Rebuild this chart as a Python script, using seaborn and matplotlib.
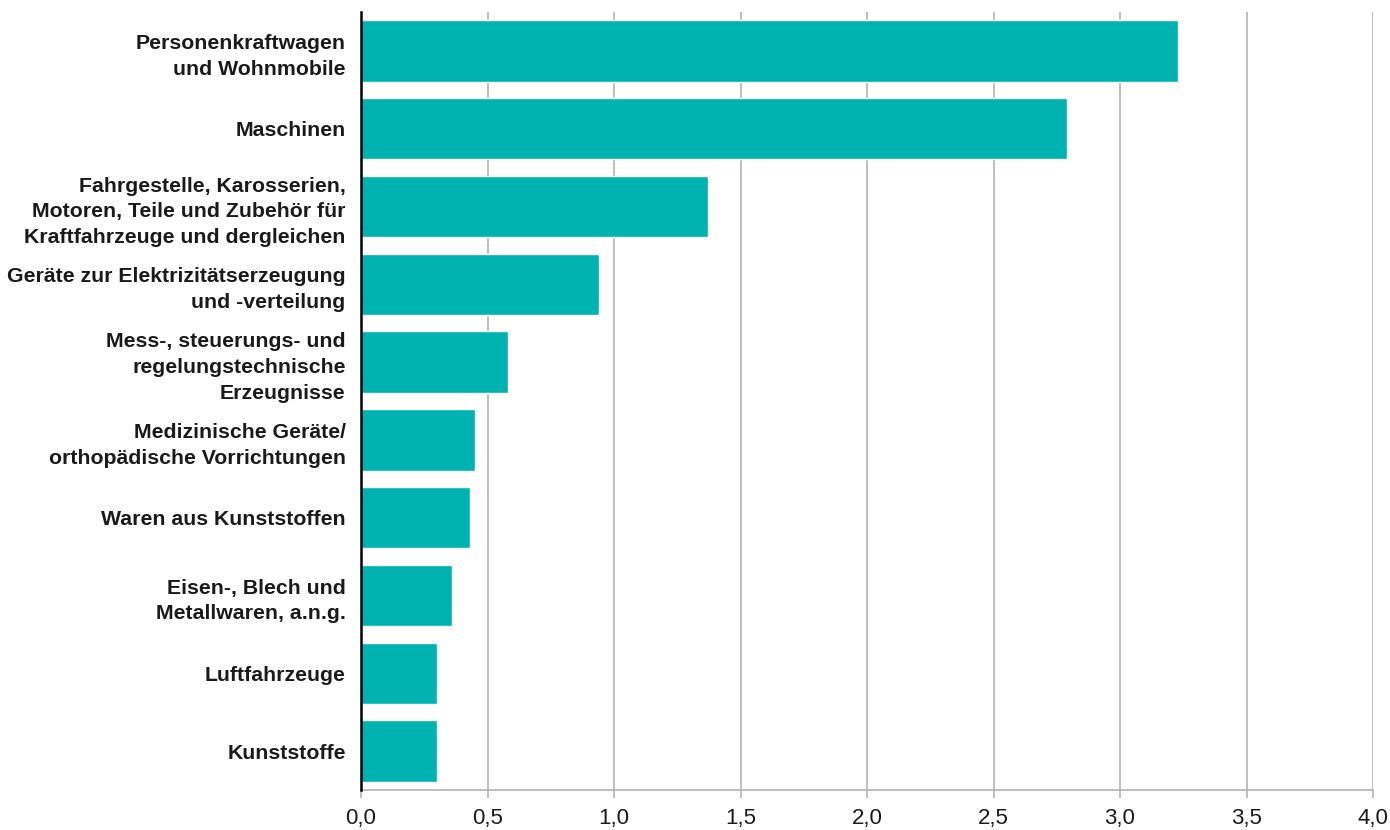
import matplotlib
matplotlib.use("Agg")
import matplotlib.pyplot as plt
import pandas as pd
import seaborn as sns
from matplotlib.ticker import FuncFormatter, MultipleLocator

# ── Data ───────────────────────────────────────────────────────────────────────
categories = [
    "Personenkraftwagen\nund Wohnmobile",
    "Maschinen",
    "Fahrgestelle, Karosserien,\nMotoren, Teile und Zubehör für\nKraftfahrzeuge und dergleichen",
    "Geräte zur Elektrizitätserzeugung\nund -verteilung",
    "Mess-, steuerungs- und\nregelungstechnische\nErzeugnisse",
    "Medizinische Geräte/\northopädische Vorrichtungen",
    "Waren aus Kunststoffen",
    "Eisen-, Blech und\nMetallwaren, a.n.g.",
    "Luftfahrzeuge",
    "Kunststoffe",
]
values = [3.23, 2.79, 1.37, 0.94, 0.58, 0.45, 0.43, 0.36, 0.30, 0.30]

df = pd.DataFrame({"category": categories, "value": values})

sns.set_theme(style="white")
plt.rcParams["font.family"] = ["Liberation Sans", "DejaVu Sans"]

fig = plt.figure(figsize=(13.9, 8.3), dpi=100)
ax = fig.add_axes([361 / 1390, 1 - 790 / 830, (1373 - 361) / 1390, (790 - 12) / 830])

sns.barplot(data=df, x="value", y="category", color="#00B2B0", saturation=1,
            width=0.79, ax=ax, zorder=2)

ax.set_xlim(0, 4.0)
ax.set_ylim(9.5, -0.5)
ax.xaxis.set_major_locator(MultipleLocator(0.5))
ax.xaxis.set_major_formatter(FuncFormatter(lambda v, _: f"{v:.1f}".replace(".", ",")))
ax.grid(axis="x", color="#b3b3b3", linewidth=1.2, zorder=0)
ax.set_axisbelow(True)

ax.set_xlabel("")
ax.set_ylabel("")

for side in ("top", "right"):
    ax.spines[side].set_visible(False)
ax.spines["left"].set_color("black")
ax.spines["left"].set_linewidth(1.8)
ax.spines["left"].set_zorder(3)
ax.spines["bottom"].set_color("#b3b3b3")
ax.spines["bottom"].set_linewidth(1.2)

ax.tick_params(axis="x", bottom=True, length=6, width=1.2, color="#b3b3b3",
               labelsize=16, labelcolor="#1a1a1a", pad=7)
ax.tick_params(axis="y", left=False, pad=5)
for lbl in ax.get_yticklabels():
    lbl.set_fontweight("bold")
    lbl.set_fontsize(15.3)
    lbl.set_color("#1a1a1a")
    lbl.set_linespacing(1.45)
    lbl.set_horizontalalignment("right")
    lbl.set_multialignment("right")

fig.savefig("out.png", dpi=100)
